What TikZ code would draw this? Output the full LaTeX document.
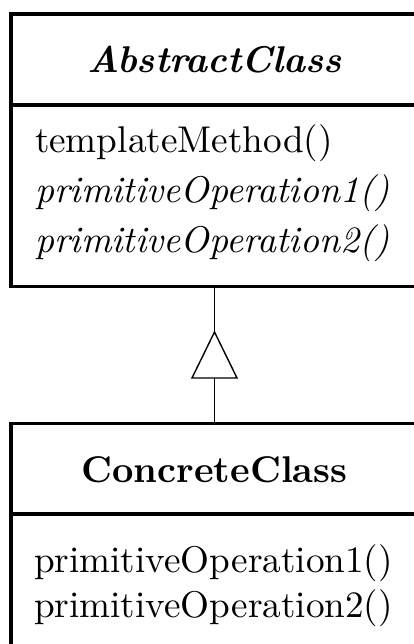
\documentclass[tikz,border=0pt]{standalone}
\begin{document}
\begin{tikzpicture}[x=1pt,y=-1pt,
  boxline/.style={line width=3.2pt},
  classbox/.style={boxline, draw, anchor=north west, inner sep=0pt, outer sep=0pt, minimum width=407pt},
  txt/.style={inner sep=0pt, outer sep=0pt, font=\fontsize{10pt}{12pt}\selectfont, scale=3.72},
  member/.style={txt, anchor=base west},
  title/.style={txt, anchor=base},
  conn/.style={line width=1.9pt},
  tri/.style={line width=1.4pt, line join=miter}]
\useasboundingbox (0,0) rectangle (414,644);
\clip (0,0) rectangle (414,644);
% boxes
\node[classbox, minimum height=272.7pt] (abs) at (11,14) {};
\node[classbox, minimum height=300pt] (con) at (11,423.3) {};
\coordinate (absdivL) at (11,105);
\coordinate (absdivR) at (418,105);
\draw[boxline] (absdivL) -- (absdivR);
\coordinate (condivL) at (11,514);
\coordinate (condivR) at (418,514);
\draw[boxline] (condivL) -- (condivR);
% texts
\node[title] (abst) at (214.5,73) {\textbf{\textit{AbstractClass}}};
\node[member] (tm) at (35,153) {templateMethod()};
\node[member] (po1) at (35,203) {\textit{primitiveOperation1()}};
\node[member] (po2) at (35,252) {\textit{primitiveOperation2()}};
\node[title] (cont) at (214.5,482) {\textbf{ConcreteClass}};
\node[member] (cpo1) at (34,572) {primitiveOperation1()};
\node[member] (cpo2) at (34,617) {primitiveOperation2()};
% generalization
\coordinate (apex) at (214.5,332);
\coordinate (baseL) at (192,378);
\coordinate (baseR) at (237,378);
\coordinate (basemid) at (214.5,378);
\draw[conn] (abs.south) -- (apex);
\draw[tri] (apex) -- (baseL) -- (baseR) -- cycle;
\draw[conn] (basemid) -- (con.north);
\end{tikzpicture}
\end{document}
